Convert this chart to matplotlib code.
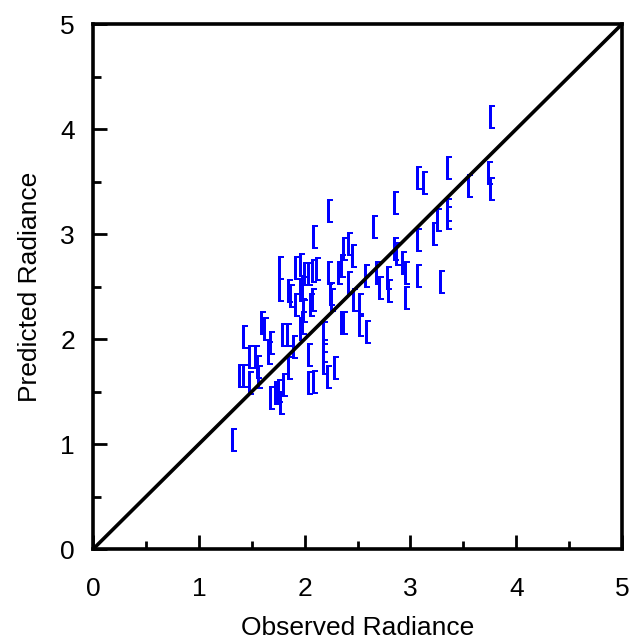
import matplotlib
matplotlib.use("Agg")
import matplotlib.pyplot as plt
import numpy as np

plt.rcParams['font.family'] = ['Liberation Sans', 'DejaVu Sans']

observed = [3.77, 3.36, 3.08, 3.14, 3.56, 3.75, 3.77, 2.86, 2.24, 3.36,
            3.36, 3.27, 3.23, 2.66, 2.10, 3.08, 2.38, 2.43, 2.47, 2.86,
            2.88, 2.94, 2.97, 3.08, 3.30, 2.97, 1.78, 1.93, 1.97, 2.01,
            2.05, 2.13, 2.09, 2.24, 2.33, 2.36, 1.78, 1.86, 1.88, 1.97,
            1.99, 1.93, 2.00, 2.07, 2.43, 2.48, 2.53, 2.59, 2.69, 2.72,
            2.80, 2.81, 2.26, 2.27, 2.09, 1.99, 1.61, 1.63, 1.80, 1.85,
            1.97, 1.44, 1.69, 1.67, 1.49, 1.55, 1.91, 2.05, 1.57, 1.40,
            1.44, 1.49, 1.58, 1.86, 2.05, 2.10, 1.69, 1.74, 1.77, 1.81,
            1.79, 1.33, 2.36, 2.38, 2.53, 2.60, 2.19, 2.19, 2.19, 2.23,
            2.30]
predicted = [4.11, 3.63, 3.53, 3.49, 3.46, 3.58, 3.43, 3.30, 3.22, 3.23,
             3.15, 3.13, 3.00, 3.07, 2.97, 2.94, 2.86, 2.91, 2.79, 2.86,
             2.81, 2.72, 2.63, 2.60, 2.54, 2.39, 2.68, 2.68, 2.71, 2.62,
             2.62, 2.67, 2.65, 2.63, 2.63, 2.70, 2.47, 2.46, 2.41, 2.47,
             2.49, 2.32, 2.27, 2.32, 2.53, 2.37, 2.32, 2.60, 2.63, 2.49,
             2.58, 2.46, 2.43, 2.37, 2.37, 2.15, 2.15, 2.10, 2.04, 2.04,
             2.10, 2.02, 1.96, 1.87, 1.83, 1.83, 1.92, 1.85, 1.73, 1.65,
             1.65, 1.58, 1.64, 1.72, 1.58, 1.59, 1.44, 1.49, 1.51, 1.56,
             1.39, 1.04, 2.15, 2.15, 2.13, 2.07, 2.06, 1.89, 1.77, 1.64,
             1.72]

x_ticks = [0, 1, 2, 3, 4, 5]
y_ticks = [0, 1, 2, 3, 4, 5]
x_label = "Observed Radiance"
y_label = "Predicted Radiance"

fig = plt.figure(figsize=(6.29, 6.40), dpi=100)
ax = fig.add_axes([0.148, 0.142, 0.841, 0.8205])

ax.plot(observed, predicted, linestyle='none', marker='$[$', markersize=17,
        color='#0000ff', markeredgewidth=0)
ax.plot([0, 5], [0, 5], color='black', lw=2.6, solid_capstyle='butt')

ax.set_xlim(0, 5)
ax.set_ylim(0, 5)
ax.set_xticks(x_ticks)
ax.set_yticks(y_ticks)
ax.set_xticks(np.arange(0.5, 5, 1.0), minor=True)
ax.set_yticks(np.arange(0.5, 5, 1.0), minor=True)
ax.tick_params(which='both', direction='in', top=False, right=False,
               labelsize=19, width=2, pad=20)
ax.tick_params(which='major', length=10)
ax.tick_params(which='minor', length=6)
ax.tick_params(axis='y', pad=13)
for s in ax.spines.values():
    s.set_linewidth(2.6)

ax.set_xlabel(x_label, fontsize=19, labelpad=11)
ax.set_ylabel(y_label, fontsize=19, labelpad=13)

fig.savefig("out.png", dpi=100)
